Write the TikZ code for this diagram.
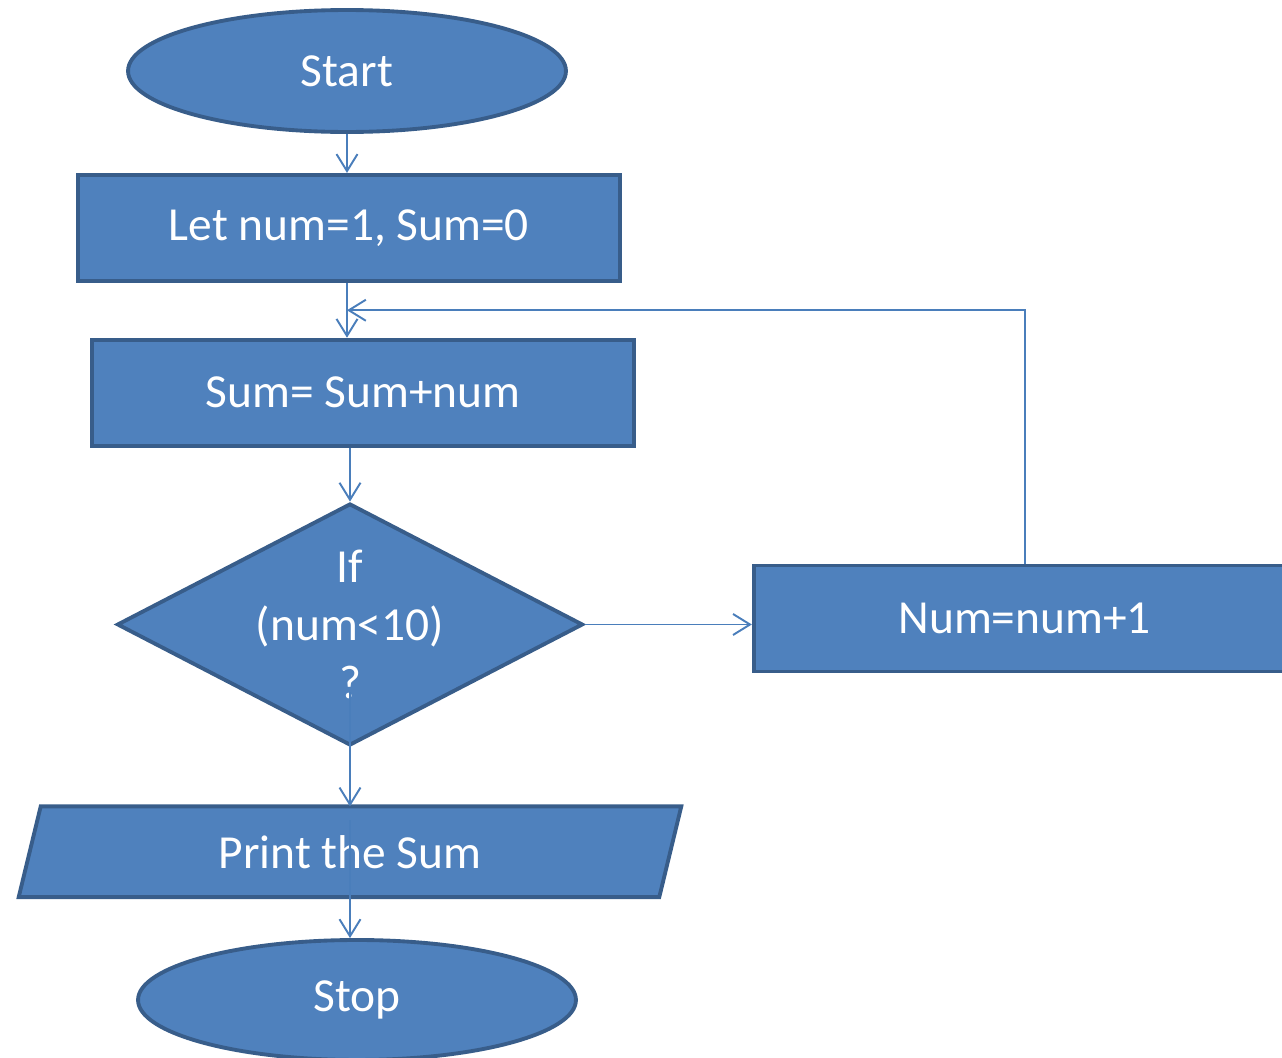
\documentclass[tikz,border=0pt]{standalone}
\usepackage{fontspec}
\setmainfont{Carlito}
\definecolor{flowfill}{RGB}{79, 129, 189}
\definecolor{flowedge}{RGB}{56, 93, 138}
\definecolor{flowline}{RGB}{74, 126, 187}
\usetikzlibrary{
  arrows.meta,
  backgrounds,
  calc,
  positioning,
  shapes.geometric,
}
\tikzset{
  >={Straight Barb[length=3.4mm,width=4.2mm]},
  flowtext/.style={text=white,font=\fontsize{27}{33}\selectfont},
  flowshape/.style={draw=flowedge,line width=2.2pt,fill=flowfill,flowtext},
  term/.style={flowshape,ellipse,minimum width=8.76cm,minimum height=2.44cm},
  proc/.style={flowshape,rectangle,minimum width=10.84cm,minimum height=2.12cm},
  link/.style={draw=flowline,line width=1.1pt},
}

\begin{document}
\begin{tikzpicture}[x=0.02cm,y=-0.02cm]
        \useasboundingbox (0,0) rectangle (1282,1058);

        \node[term]    (start) at (347,71)       {Start};
        \node[proc,xshift=0.04cm]    (init) [below=0.78cm of start]       {\raisebox{-0.15cm}{Let num=1, Sum=0}};
        \node[proc,xshift=0.28cm]    (sum) [below=1.10cm of init]       {Sum= Sum+num};
        \node[flowshape,diamond,aspect=1.93,inner sep=0,minimum width=9.32cm,minimum height=4.84cm,xshift=-0.26cm,
              label={[flowtext,align=center]center:If\\(num<10)\\?}]    (test) [below=1.08cm of sum]       {};
        \node[proc,yshift=0.12cm]    (incr) [right=3.34cm of test]       {Num=num+1};
        \node[flowtext,minimum width=12.8cm,minimum height=1.8cm]    (print) [below=1.18cm of test]       {Print the Sum};
        \node[term,minimum height=2.4cm,xshift=0.14cm]    (stop) [below=0.82cm of print]       {Stop};

        \begin{scope}[on background layer]
            \draw[flowshape] ([xshift=0.22cm]print.north west) -- ([xshift=0.22cm]print.north east) -- ([xshift=-0.22cm]print.south east) -- ([xshift=-0.22cm]print.south west) -- cycle;
        \end{scope}

        \coordinate (join) at (start.south |- {$(init.south)!0.5!(sum.north)$});

        \draw[link,->] (start.south) -- (start.south |- init.north);
        \draw[link,->] (start.south |- init.south) -- (start.south |- sum.north);
        \draw[link,->] (test.north |- sum.south) -- (test.north);
        \draw[link,->] (test.east) -- (test.east -| incr.west);
        \draw[link,->] (incr.north) |- (join);
        \draw[link,->] ([yshift=1.1cm]test.south) -- (test.south |- print.north);
        \draw[link,->] ([yshift=1.54cm]test.south |- print.south) -- (test.south |- stop.north);

    \end{tikzpicture}
\end{document}
